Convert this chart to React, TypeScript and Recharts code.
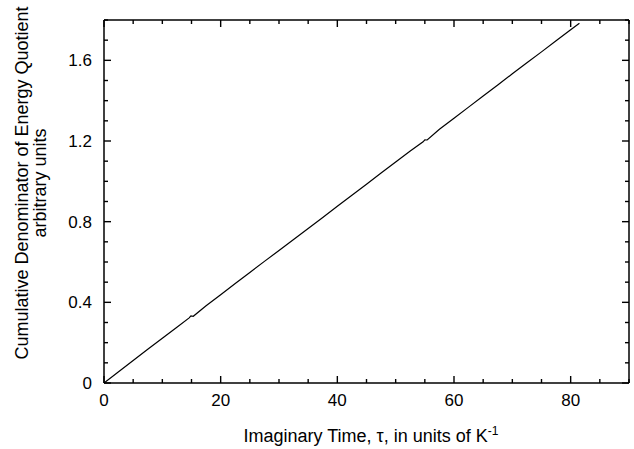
import React from "react";
import { LineChart, Line, XAxis, YAxis, Label } from "recharts";

// Imaginary time τ (units of K^-1)
const tau = [0, 2.5, 5, 7.5, 10, 12.5, 14.6, 14.9, 15.3, 17.5, 20, 22.5, 25, 27.5, 30, 32.5, 35, 37.5, 40, 42.5, 45, 47.5, 50, 52.5, 54.7, 55.0, 55.4, 57.5, 60, 62.5, 65, 67.5, 70, 72.5, 75, 77.5, 80, 81.5];
// Cumulative denominator of energy quotient (arbitrary units)
const denom = [0, 0.056, 0.112, 0.167, 0.222, 0.276, 0.323, 0.333, 0.331, 0.383, 0.438, 0.493, 0.548, 0.603, 0.657, 0.712, 0.766, 0.821, 0.876, 0.931, 0.986, 1.041, 1.096, 1.150, 1.196, 1.206, 1.205, 1.258, 1.313, 1.368, 1.423, 1.478, 1.533, 1.588, 1.642, 1.697, 1.752, 1.784];

const xTicks = [0, 5, 10, 15, 20, 25, 30, 35, 40, 45, 50, 55, 60, 65, 70, 75, 80, 85, 90];
const xLabelTicks = [0, 20, 40, 60, 80];
const yTicks = [0, 0.1, 0.2, 0.3, 0.4, 0.5, 0.6, 0.7, 0.8, 0.9, 1.0, 1.1, 1.2, 1.3, 1.4, 1.5, 1.6, 1.7, 1.8];
const yLabelTicks = [0, 0.4, 0.8, 1.2, 1.6];
const yLabelText = ["0", "0.4", "0.8", "1.2", "1.6"];

const data = tau.map((t, i) => ({ tau: t, value: denom[i] }));

const FONT = "'Liberation Sans', Arial, Helvetica, sans-serif";
const MAJOR = 7;
const MINOR = 4;
const TC = "#000";

const isIn = (arr: number[], v: number) => arr.findIndex((a) => Math.abs(a - v) < 1e-6);

const BottomTick = (props: any) => {
  const x = Number(props.x);
  const y = Number(props.y);
  const idx = isIn(xLabelTicks, props.payload.value);
  const len = idx >= 0 ? MAJOR : MINOR;
  return (
    <g>
      <path d={`M${x},${y}V${y - len}`} stroke={TC} strokeWidth={1.4} fill="none" />
      {idx >= 0 && (
        <text x={x} y={y + 23} textAnchor="middle" fontSize={17} fontFamily={FONT} fill="#000">
          {String(xLabelTicks[idx])}
        </text>
      )}
    </g>
  );
};

const TopTick = (props: any) => {
  const x = Number(props.x);
  const y = Number(props.y);
  const idx = isIn(xLabelTicks, props.payload.value);
  const len = idx >= 0 ? MAJOR : MINOR;
  return (
    <g>
      <path d={`M${x},${y}V${y + len}`} stroke={TC} strokeWidth={1.4} fill="none" />
    </g>
  );
};

const LeftTick = (props: any) => {
  const x = Number(props.x);
  const y = Number(props.y);
  const idx = isIn(yLabelTicks, props.payload.value);
  const len = idx >= 0 ? MAJOR : MINOR;
  return (
    <g>
      <path d={`M${x},${y}H${x + len}`} stroke={TC} strokeWidth={1.4} fill="none" />
      {idx >= 0 && (
        <text x={x - 12} y={y + 6} textAnchor="end" fontSize={17} fontFamily={FONT} fill="#000">
          {yLabelText[idx]}
        </text>
      )}
    </g>
  );
};

const RightTick = (props: any) => {
  const x = Number(props.x);
  const y = Number(props.y);
  const idx = isIn(yLabelTicks, props.payload.value);
  const len = idx >= 0 ? MAJOR : MINOR;
  return (
    <g>
      <path d={`M${x},${y}H${x - len}`} stroke={TC} strokeWidth={1.4} fill="none" />
    </g>
  );
};

const XTitle = () => (
  <text x={371} y={442} textAnchor="middle" fontSize={18} fontFamily={FONT} fill="#000">
    Imaginary Time, τ, in units of K
    <tspan fontSize={12} dy={-7}>-1</tspan>
  </text>
);

const YTitle = () => (
  <text transform="translate(0,183) rotate(-90)" textAnchor="middle" fontSize={18} fontFamily={FONT} fill="#000">
    <tspan x={0} y={28}>Cumulative Denominator of Energy Quotient</tspan>
    <tspan x={0} y={46}>arbitrary units</tspan>
  </text>
);

export default function App() {
  return (
    <div style={{ position: "absolute", left: 0, top: 0, background: "#fff" }}>
      <LineChart
        width={634}
        height={449}
        data={data}
        margin={{ top: 10, right: 0, bottom: 36, left: 44 }}
      >
        <XAxis
          xAxisId="bottom"
          dataKey="tau"
          type="number"
          domain={[0, 90]}
          ticks={xTicks}
          interval={0}
          height={30}
          tickSize={0}
          tickMargin={0}
          tickLine={false}
          tick={(p: any) => <BottomTick {...p} />}
          axisLine={{ stroke: "#000", strokeWidth: 1.5 }}
          allowDataOverflow
        >
          <Label content={<XTitle />} />
        </XAxis>
        <XAxis
          xAxisId="top"
          orientation="top"
          dataKey="tau"
          type="number"
          domain={[0, 90]}
          ticks={xTicks}
          interval={0}
          height={10}
          tickSize={0}
          tickMargin={0}
          tickLine={false}
          tick={(p: any) => <TopTick {...p} />}
          axisLine={{ stroke: "#000", strokeWidth: 1.5 }}
          allowDataOverflow
        />
        <YAxis
          yAxisId="left"
          type="number"
          domain={[0, 1.8]}
          ticks={yTicks}
          interval={0}
          width={60}
          tickSize={0}
          tickMargin={0}
          tickLine={false}
          tick={(p: any) => <LeftTick {...p} />}
          axisLine={{ stroke: "#000", strokeWidth: 1.5 }}
          allowDataOverflow
        >
          <Label content={<YTitle />} />
        </YAxis>
        <YAxis
          yAxisId="right"
          orientation="right"
          type="number"
          domain={[0, 1.8]}
          ticks={yTicks}
          interval={0}
          width={5}
          tickSize={0}
          tickMargin={0}
          tickLine={false}
          tick={(p: any) => <RightTick {...p} />}
          axisLine={{ stroke: "#000", strokeWidth: 1.5 }}
          allowDataOverflow
        />
        <Line
          xAxisId="bottom"
          yAxisId="left"
          type="linear"
          dataKey="value"
          stroke="#000"
          strokeWidth={1.2}
          dot={false}
          isAnimationActive={false}
        />
      </LineChart>
    </div>
  );
}
